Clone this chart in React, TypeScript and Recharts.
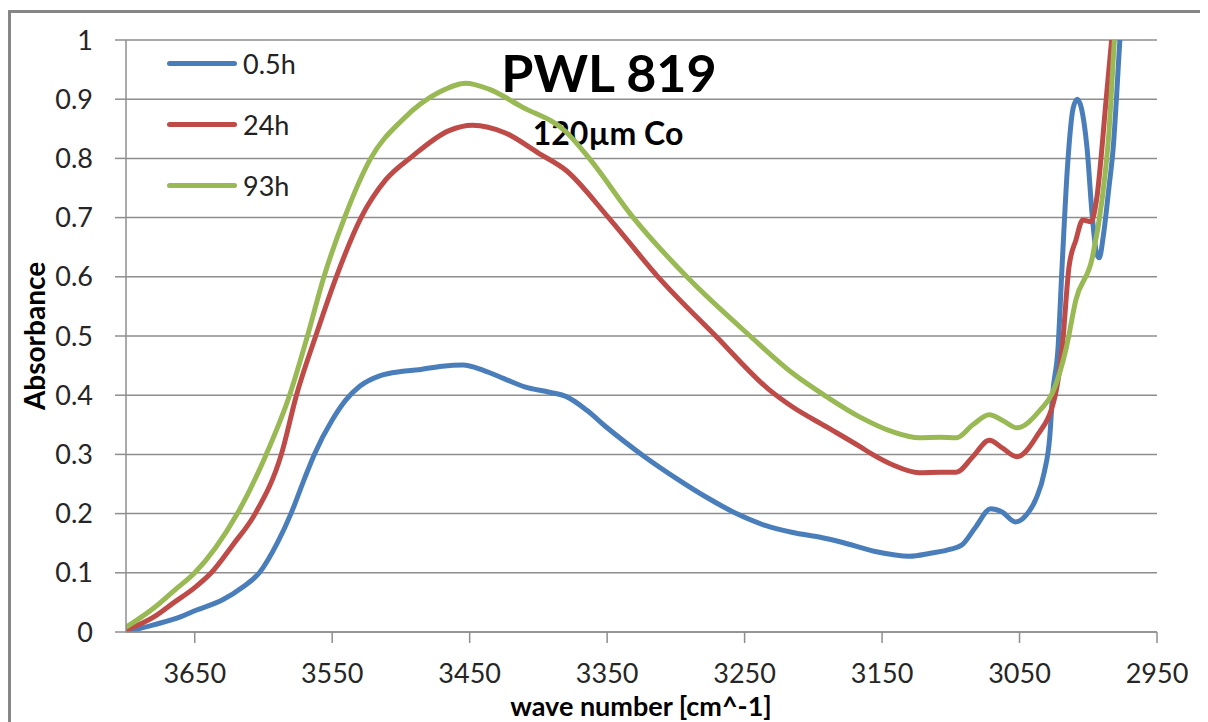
import React from 'react';
import { LineChart, Line, XAxis, YAxis, CartesianGrid, Legend } from 'recharts';

// wave numbers (cm^-1) and absorbance, per sample
const blueWn = [3700, 3680, 3660, 3650, 3630, 3615, 3603, 3590, 3580, 3570, 3563, 3550, 3540, 3530, 3515, 3500, 3487, 3470, 3455, 3440, 3425, 3410, 3392, 3380, 3365, 3350, 3325, 3300, 3278, 3256, 3235, 3215, 3195, 3180, 3155, 3130, 3115, 3100, 3092, 3082, 3071, 3063, 3053, 3045, 3038, 3032, 3028, 3026, 3022, 3019, 3015, 3011, 3008, 3005, 3001, 2997, 2994, 2992, 2989, 2985, 2982, 2977, 2974];
const blueAbs = [0, 0.012, 0.026, 0.036, 0.054, 0.076, 0.1, 0.15, 0.2, 0.26, 0.3, 0.358, 0.392, 0.415, 0.433, 0.44, 0.443, 0.449, 0.451, 0.442, 0.428, 0.414, 0.405, 0.398, 0.375, 0.345, 0.3, 0.26, 0.228, 0.2, 0.18, 0.168, 0.16, 0.152, 0.136, 0.128, 0.133, 0.14, 0.147, 0.177, 0.208, 0.203, 0.186, 0.198, 0.225, 0.27, 0.33, 0.4, 0.48, 0.62, 0.79, 0.885, 0.9, 0.885, 0.82, 0.7, 0.64, 0.632, 0.67, 0.75, 0.814, 1.0, 1.11];

const redWn = [3700, 3680, 3665, 3650, 3638, 3622, 3606, 3587, 3576, 3562, 3547, 3529, 3511, 3492, 3465, 3448, 3424, 3400, 3380, 3349, 3313, 3271, 3232, 3215, 3190, 3166, 3157, 3142, 3123, 3108, 3096, 3084, 3072, 3062, 3052, 3038, 3024, 3019, 3014, 3009, 3004, 2998, 2994, 2987, 2983, 2980];
const redAbs = [0.003, 0.025, 0.05, 0.075, 0.1, 0.148, 0.2, 0.3, 0.4, 0.5, 0.6, 0.7, 0.764, 0.803, 0.847, 0.856, 0.843, 0.809, 0.78, 0.7, 0.6, 0.5, 0.409, 0.38, 0.346, 0.313, 0.3, 0.282, 0.269, 0.27, 0.27, 0.296, 0.324, 0.31, 0.296, 0.329, 0.4, 0.48, 0.617, 0.662, 0.696, 0.693, 0.73, 0.899, 1.0, 1.08];

const greenWn = [3700, 3680, 3665, 3650, 3635, 3619, 3598, 3581, 3568, 3556, 3541, 3522, 3499, 3472, 3453, 3436, 3412, 3380, 3363, 3331, 3292, 3246, 3215, 3190, 3166, 3142, 3123, 3108, 3096, 3084, 3072, 3062, 3052, 3035, 3026, 3016, 3009, 2997, 2990, 2985, 2981, 2978];
const greenAbs = [0.008, 0.04, 0.07, 0.1, 0.142, 0.2, 0.3, 0.4, 0.5, 0.6, 0.7, 0.8, 0.865, 0.912, 0.927, 0.917, 0.887, 0.845, 0.8, 0.7, 0.6, 0.5, 0.437, 0.397, 0.363, 0.338, 0.328, 0.329, 0.328, 0.35, 0.367, 0.357, 0.345, 0.375, 0.404, 0.48, 0.561, 0.633, 0.73, 0.843, 1.0, 1.1];

const xTicks = [3650, 3550, 3450, 3350, 3250, 3150, 3050, 2950];
const yTicks = [0, 0.1, 0.2, 0.3, 0.4, 0.5, 0.6, 0.7, 0.8, 0.9, 1];

const zip = (wn: number[], abs: number[]) => wn.map((w, i) => ({ wn: w, abs: abs[i] }));

const series = [
  { name: '0.5h', color: '#4a7ebb', data: zip(blueWn, blueAbs) },
  { name: '24h', color: '#be4b48', data: zip(redWn, redAbs) },
  { name: '93h', color: '#98b954', data: zip(greenWn, greenAbs) },
];

const font = 'Lato, "Open Sans", sans-serif';
const gridColor = '#8e8e8e';

const renderLegend = (props: any) => {
  const { payload } = props;
  return (
    <div style={{ fontFamily: font }}>
      {payload.map((p: any) => (
        <div key={p.value} style={{ height: 61, display: 'flex', alignItems: 'center' }}>
          <span style={{ width: 70, height: 5, borderRadius: 3, background: p.color, display: 'inline-block' }} />
          <span style={{ marginLeft: 6, fontSize: 27, color: '#222' }}>{p.value}</span>
        </div>
      ))}
    </div>
  );
};

export default function App() {
  return (
    <div
      style={{
        marginTop: 2,
        width: 1200,
        height: 709,
        borderTop: '3px solid #868686',
        borderLeft: '3px solid #868686',
        background: '#fff',
      }}
    >
      <style>{'html,body{overflow:hidden}'}</style>
      <LineChart width={1190} height={709} margin={{ top: 27, right: 44, bottom: 0, left: 0 }}>
        <CartesianGrid horizontal vertical={false} stroke={gridColor} strokeWidth={1.5} />
        <XAxis
          type="number"
          dataKey="wn"
          domain={[2950, 3700]}
          reversed
          allowDataOverflow
          ticks={xTicks}
          height={90}
          tickSize={11}
          tickMargin={21}
          stroke={gridColor}
          strokeWidth={1.5}
          tick={{ fontSize: 27, fill: '#262626', fontFamily: font }}
        />
        <YAxis
          type="number"
          domain={[0, 1]}
          allowDataOverflow
          ticks={yTicks}
          width={115}
          tickSize={11}
          tickMargin={22}
          stroke={gridColor}
          strokeWidth={1.5}
          tick={{ fontSize: 27, fill: '#262626', fontFamily: font }}
        />
        <Legend
          layout="vertical"
          align="center"
          verticalAlign="middle"
          content={renderLegend}
          wrapperStyle={{ left: 156, top: 20, width: 200, height: 183 }}
        />
        {series.map((s) => (
          <Line
            key={s.name}
            data={s.data}
            dataKey="abs"
            name={s.name}
            type="monotone"
            stroke={s.color}
            strokeWidth={5}
            dot={false}
            activeDot={false}
            isAnimationActive={false}
          />
        ))}
        <text x={598} y={79} textAnchor="middle" fontSize={52} fontWeight={700} fontFamily={font} fill="#000">
          PWL 819
        </text>
        <text x={597} y={132} textAnchor="middle" fontSize={32} fontWeight={700} fontFamily={font} fill="#000">
          120µm Co
        </text>
        <text x={630} y={703} textAnchor="middle" fontSize={27} fontWeight={700} fontFamily={font} fill="#000">
          wave number [cm^-1]
        </text>
        <text
          x={34}
          y={323}
          transform="rotate(-90, 34, 323)"
          textAnchor="middle"
          fontSize={28}
          fontWeight={700}
          fontFamily={font}
          fill="#000"
        >
          Absorbance
        </text>
      </LineChart>
    </div>
  );
}
